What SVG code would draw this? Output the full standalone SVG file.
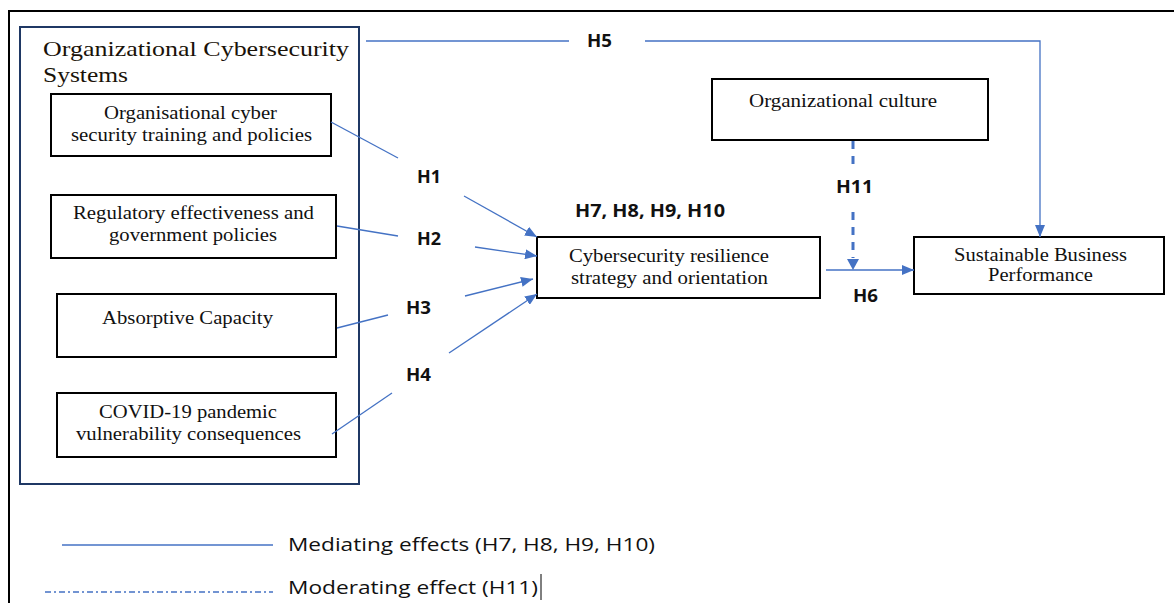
<svg xmlns="http://www.w3.org/2000/svg" width="1174" height="603" viewBox="0 0 1174 603">
<defs>
<marker id="ah" viewBox="0 0 12 10" refX="12" refY="5" markerWidth="12" markerHeight="10" markerUnits="userSpaceOnUse" orient="auto">
<path d="M0,0 L12,5 L0,10 z" fill="#4472c4"/>
</marker>
<style>
.box{fill:#fff;stroke:#000;stroke-width:2}
.t{font-family:"Liberation Serif","Times New Roman",serif;font-size:18px;fill:#111}
.h{font-family:"Open Sans","Liberation Sans",sans-serif;font-weight:bold;font-size:17px;fill:#111}
.c{fill:none;stroke:#4472c4;stroke-width:1.3}
.lg{font-family:"Open Sans","Liberation Sans",sans-serif;font-size:19px;fill:#111}
</style>
</defs>
<rect width="1174" height="603" fill="#fff"/>
<g id="frame">
<path d="M9,603 V11 H1174" fill="none" stroke="#000" stroke-width="2"/>
</g>
<g id="container">
<rect x="20" y="27" width="339" height="457" fill="none" stroke="#1f3864" stroke-width="2"/>
<text x="43" y="56" textLength="306" lengthAdjust="spacingAndGlyphs" style="font-family:'Liberation Serif',serif;font-size:21px;fill:#1a1208">Organizational Cybersecurity</text>
<text x="43" y="82" textLength="85" lengthAdjust="spacingAndGlyphs" style="font-family:'Liberation Serif',serif;font-size:21px;fill:#1a1208">Systems</text>
</g>
<g id="n1"><rect class="box" x="51" y="94" width="280" height="62"/>
<text class="t" x="104" y="119" textLength="173" lengthAdjust="spacingAndGlyphs">Organisational cyber</text>
<text class="t" x="71" y="141" textLength="241" lengthAdjust="spacingAndGlyphs">security training and policies</text></g>
<g id="n2"><rect class="box" x="51" y="195" width="285" height="63"/>
<text class="t" x="73" y="219" textLength="241" lengthAdjust="spacingAndGlyphs">Regulatory effectiveness and</text>
<text class="t" x="109" y="241" textLength="168" lengthAdjust="spacingAndGlyphs">government policies</text></g>
<g id="n3"><rect class="box" x="57" y="294" width="279" height="63"/>
<text class="t" x="102" y="324" textLength="171" lengthAdjust="spacingAndGlyphs">Absorptive Capacity</text></g>
<g id="n4"><rect class="box" x="57" y="393" width="279" height="64"/>
<text class="t" x="99" y="418" textLength="178" lengthAdjust="spacingAndGlyphs">COVID-19 pandemic</text>
<text class="t" x="76" y="440" textLength="225" lengthAdjust="spacingAndGlyphs">vulnerability consequences</text></g>
<g id="n5"><rect class="box" x="537" y="237" width="283" height="61"/>
<text class="t" x="569" y="262" textLength="200" lengthAdjust="spacingAndGlyphs">Cybersecurity resilience</text>
<text class="t" x="571" y="284" textLength="197" lengthAdjust="spacingAndGlyphs">strategy and orientation</text></g>
<g id="n6"><rect class="box" x="712" y="79" width="276" height="61"/>
<text class="t" x="749" y="107" textLength="188" lengthAdjust="spacingAndGlyphs">Organizational culture</text></g>
<g id="n7"><rect class="box" x="914" y="237" width="250" height="57"/>
<text class="t" x="954" y="261" textLength="173" lengthAdjust="spacingAndGlyphs">Sustainable Business</text>
<text class="t" x="988" y="281" textLength="105" lengthAdjust="spacingAndGlyphs">Performance</text></g>
<g id="connectors">
<line class="c" x1="331" y1="122" x2="398" y2="158"/>
<line class="c" x1="464" y1="196" x2="537" y2="237" marker-end="url(#ah)"/>
<line class="c" x1="337" y1="226" x2="398" y2="236"/>
<line class="c" x1="475" y1="247" x2="537" y2="256" marker-end="url(#ah)"/>
<line class="c" x1="337" y1="328" x2="388" y2="315"/>
<line class="c" x1="465" y1="296" x2="533" y2="279" marker-end="url(#ah)"/>
<line class="c" x1="332" y1="434" x2="392" y2="393"/>
<line class="c" x1="449" y1="353" x2="537" y2="294" marker-end="url(#ah)"/>
<line class="c" x1="366" y1="41" x2="569" y2="41"/>
<path class="c" d="M645,41 H1040 V237" marker-end="url(#ah)"/>
<line class="c" x1="826" y1="270" x2="914" y2="270" marker-end="url(#ah)"/>
<line x1="853" y1="141" x2="853" y2="168" stroke="#4472c4" stroke-width="3" stroke-dasharray="8,7"/>
<line x1="853" y1="212" x2="853" y2="258" stroke="#4472c4" stroke-width="3" stroke-dasharray="8,7"/>
<path d="M847,259 L859,259 L853,270 z" fill="#4472c4"/>
</g>
<g id="labels">
<text class="h" x="417" y="183" textLength="24" lengthAdjust="spacingAndGlyphs">H1</text>
<text class="h" x="417" y="245" textLength="24" lengthAdjust="spacingAndGlyphs">H2</text>
<text class="h" x="406" y="314" textLength="25" lengthAdjust="spacingAndGlyphs">H3</text>
<text class="h" x="406" y="381" textLength="25" lengthAdjust="spacingAndGlyphs">H4</text>
<text class="h" x="587" y="47" textLength="25" lengthAdjust="spacingAndGlyphs">H5</text>
<text class="h" x="853" y="302" textLength="25" lengthAdjust="spacingAndGlyphs">H6</text>
<text class="h" x="575" y="217" textLength="150" lengthAdjust="spacingAndGlyphs">H7, H8, H9, H10</text>
<text class="h" x="836" y="193" textLength="37" lengthAdjust="spacingAndGlyphs">H11</text>
</g>
<g id="legend">
<line x1="62" y1="545" x2="273" y2="545" stroke="#4472c4" stroke-width="1.3"/>
<text class="lg" x="288" y="551" textLength="367" lengthAdjust="spacingAndGlyphs">Mediating effects (H7, H8, H9, H10)</text>
<line x1="45" y1="592" x2="273" y2="592" stroke="#4472c4" stroke-width="1.5" stroke-dasharray="6,3,2,3"/>
<text class="lg" x="288" y="594" textLength="250" lengthAdjust="spacingAndGlyphs">Moderating effect (H11)</text>
<line x1="541" y1="574" x2="541" y2="600" stroke="#000" stroke-width="1"/>
</g>
</svg>
